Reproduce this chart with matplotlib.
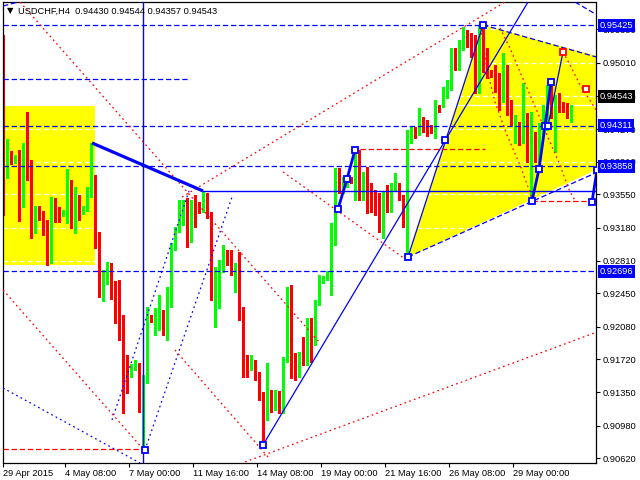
import matplotlib
matplotlib.use("Agg")
import matplotlib.pyplot as plt
import matplotlib.transforms as mtransforms
from matplotlib.patches import Polygon, Rectangle
import numpy as np

# ---------------- USDCHF H4 candles (first candle is bar -1, cut by the left edge)
opens = [0.95262, 0.93786, 0.93919, 0.93908, 0.93974, 0.93608, 0.93897, 0.93808, 0.93220, 0.93364, 0.93308,
         0.93142, 0.93020, 0.93497, 0.93364, 0.93320, 0.93342, 0.93697, 0.93197, 0.93508, 0.93353,
         0.93386, 0.93541, 0.93730, 0.93075, 0.92453, 0.92620, 0.92720, 0.92476, 0.92453, 0.91999,
         0.91743, 0.91532, 0.91621, 0.91655, 0.91166, 0.91521, 0.92187, 0.92076, 0.92210, 0.92243,
         0.92143, 0.92321, 0.92975, 0.93153, 0.93231, 0.93442, 0.93042, 0.93442, 0.93442, 0.93397,
         0.93508, 0.93297, 0.92453, 0.92676, 0.92731, 0.92831, 0.92809, 0.92676, 0.92776, 0.92176,
         0.91710, 0.91621, 0.91710, 0.91521, 0.91355, 0.91100, 0.91366, 0.91177, 0.91310, 0.91266,
         0.91710, 0.92453, 0.91777, 0.91544, 0.91821, 0.91688, 0.91965, 0.91899, 0.92343, 0.92576,
         0.92620, 0.92676, 0.93153, 0.93730, 0.93575, 0.93675, 0.93719, 0.93686, 0.93764, 0.93508,
         0.93708, 0.93597, 0.93486, 0.93431, 0.93231, 0.93564, 0.93375, 0.93597, 0.93653, 0.93519,
         0.93186, 0.94130, 0.94241, 0.94241, 0.94407, 0.94307, 0.94296, 0.94241, 0.94529, 0.94529,
         0.94629, 0.94729, 0.95073, 0.94940, 0.95173, 0.95340, 0.95229, 0.95118, 0.94740, 0.95351,
         0.95040, 0.94907, 0.94874, 0.94740, 0.94596, 0.94874, 0.94441, 0.94263, 0.94285, 0.94152,
         0.94407, 0.94041, 0.94185, 0.93985, 0.94263, 0.94540, 0.94674, 0.94430, 0.94663, 0.94540, 0.94507, 0.94430]
highs = [0.95318, 0.94163, 0.94030, 0.93985, 0.94041, 0.94119, 0.94463, 0.93930, 0.93419, 0.93419, 0.93364,
         0.93264, 0.93519, 0.93508, 0.93408, 0.93375, 0.93830, 0.93708, 0.93630, 0.93541, 0.93419,
         0.93630, 0.94119, 0.93764, 0.93131, 0.92709, 0.92798, 0.92787, 0.92587, 0.92598, 0.92210,
         0.91766, 0.91666, 0.91710, 0.91677, 0.91544, 0.92299, 0.92210, 0.92288, 0.92431, 0.92265,
         0.92520, 0.93009, 0.93186, 0.93486, 0.93486, 0.93508, 0.93486, 0.93541, 0.93464, 0.93575,
         0.93564, 0.93353, 0.92743, 0.92820, 0.92987, 0.92931, 0.92931, 0.92787, 0.92909, 0.92299,
         0.91766, 0.91766, 0.91710, 0.91577, 0.91355, 0.91677, 0.91377, 0.91377, 0.91366, 0.91743,
         0.92520, 0.92541, 0.91788, 0.91799, 0.91965, 0.92176, 0.92176, 0.92376, 0.92654, 0.92642,
         0.92698, 0.93231, 0.93841, 0.93841, 0.93741, 0.93764, 0.93741, 0.94041, 0.94041, 0.93800,
         0.93852, 0.93675, 0.93597, 0.93564, 0.93586, 0.93653, 0.93675, 0.93786, 0.93675, 0.93541,
         0.94263, 0.94296, 0.94296, 0.94507, 0.94407, 0.94374, 0.94319, 0.94596, 0.94540, 0.94740,
         0.94818, 0.95173, 0.95173, 0.95262, 0.95406, 0.95373, 0.95340, 0.95318, 0.95429, 0.95429,
         0.95173, 0.94929, 0.94985, 0.94896, 0.95118, 0.94985, 0.94596, 0.94430, 0.94352, 0.94785,
         0.94452, 0.94463, 0.94241, 0.94341, 0.94374, 0.94763, 0.94796, 0.94651, 0.94674, 0.94574, 0.94563, 0.94544]
lows = [0.93320, 0.93730, 0.93886, 0.93897, 0.93253, 0.93408, 0.93708, 0.93064, 0.93120, 0.93264, 0.93098,
        0.92765, 0.92787, 0.93242, 0.93242, 0.93308, 0.93231, 0.93175, 0.93120, 0.93264, 0.93331,
        0.93364, 0.93519, 0.92953, 0.92409, 0.92365, 0.92554, 0.92387, 0.92121, 0.91932, 0.91122,
        0.91344, 0.91521, 0.91599, 0.91133, 0.90722, 0.91455, 0.92132, 0.91988, 0.92043, 0.91988,
        0.91932, 0.92299, 0.92931, 0.93131, 0.93209, 0.92964, 0.93020, 0.93186, 0.93342, 0.93353,
        0.93286, 0.92376, 0.92076, 0.92288, 0.92687, 0.92765, 0.92654, 0.92464, 0.92154, 0.91521,
        0.91521, 0.91599, 0.91488, 0.91266, 0.90766, 0.91044, 0.91133, 0.91155, 0.91122, 0.91122,
        0.91688, 0.91510, 0.91488, 0.91521, 0.91655, 0.91655, 0.91688, 0.91877, 0.92321, 0.92565,
        0.92598, 0.92431, 0.92987, 0.93564, 0.93564, 0.93630, 0.93675, 0.93486, 0.93486, 0.93486,
        0.93342, 0.93353, 0.93320, 0.93131, 0.93064, 0.93353, 0.93353, 0.93586, 0.93486, 0.93186,
        0.92853, 0.94119, 0.94174, 0.94207, 0.94241, 0.94196, 0.94230, 0.94174, 0.94463, 0.94518,
        0.94618, 0.94707, 0.94929, 0.94929, 0.95151, 0.95184, 0.95073, 0.94674, 0.94674, 0.94907,
        0.94840, 0.94851, 0.94685, 0.94485, 0.94574, 0.94430, 0.94319, 0.94119, 0.94096, 0.94119,
        0.93908, 0.93464, 0.93908, 0.93908, 0.94207, 0.94263, 0.94396, 0.94019, 0.94463, 0.94463, 0.94396, 0.94357]
closes = [0.93397, 0.93919, 0.93897, 0.93974, 0.93608, 0.93897, 0.93797, 0.93220, 0.93364, 0.93297, 0.93142,
          0.93020, 0.93497, 0.93253, 0.93320, 0.93353, 0.93697, 0.93197, 0.93508, 0.93297, 0.93386,
          0.93541, 0.93730, 0.93075, 0.92464, 0.92631, 0.92720, 0.92464, 0.92442, 0.91988, 0.91732,
          0.91588, 0.91632, 0.91655, 0.91166, 0.91521, 0.92187, 0.92154, 0.92232, 0.92243, 0.92154,
          0.92321, 0.92975, 0.93131, 0.93242, 0.93442, 0.93042, 0.93442, 0.93408, 0.93397, 0.93508,
          0.93297, 0.92453, 0.92676, 0.92731, 0.92909, 0.92787, 0.92676, 0.92776, 0.92176, 0.91655,
          0.91655, 0.91710, 0.91521, 0.91355, 0.91100, 0.91366, 0.91155, 0.91310, 0.91266, 0.91721,
          0.92453, 0.91766, 0.91544, 0.91710, 0.91688, 0.91965, 0.91899, 0.92343, 0.92620, 0.92620,
          0.92676, 0.93186, 0.93730, 0.93597, 0.93675, 0.93741, 0.93686, 0.93764, 0.93508, 0.93708,
          0.93675, 0.93464, 0.93419, 0.93231, 0.93564, 0.93375, 0.93653, 0.93653, 0.93519, 0.93186,
          0.94130, 0.94241, 0.94185, 0.94407, 0.94241, 0.94241, 0.94241, 0.94529, 0.94485, 0.94651,
          0.94729, 0.95073, 0.94940, 0.95173, 0.95340, 0.95229, 0.95096, 0.94740, 0.95373, 0.95040,
          0.94907, 0.94874, 0.94740, 0.94596, 0.94874, 0.94452, 0.94352, 0.94285, 0.94152, 0.94407,
          0.94041, 0.94185, 0.93985, 0.94319, 0.94540, 0.94674, 0.94430, 0.94651, 0.94563, 0.94485, 0.94407, 0.94543]
first_bar = -1

# axis texts
date_ticks = [-1, 14.5, 30.5, 46.5, 62.5, 78.5, 94.5, 110.5, 126.5]
date_labels = ["29 Apr 2015", "4 May 08:00", "7 May 00:00", "11 May 16:00", "14 May 08:00",
               "19 May 00:00", "21 May 16:00", "26 May 08:00", "29 May 00:00"]
price_ticks = [0.95380, 0.95010, 0.94640, 0.94270, 0.93910, 0.93550, 0.93180,
               0.92810, 0.92450, 0.92080, 0.91720, 0.91350, 0.90980, 0.90620]
title = "USDCHF,H4  0.94430 0.94544 0.94357 0.94543"

# ---------------- analyst objects (bar, price)
levels = [0.95425, 0.94311, 0.93858, 0.92696]
short_level = (0.94829, -1, 45.75)
support = (0.93586, 49, 148)
thick_line = [(21.25, 0.94119), (49, 0.93586)]
vline_bar = 34
box = (-2, 22, 0.92768, 0.94533)
triangle = [(100.25, 0.92853), (119, 0.95429), (186, 0.94618)]

blue_thin = [[(64, 0.90766), (130.25, 0.95684)],
             [(100.25, 0.92853), (119, 0.95429)],
             [(135.25, 0.94307), (139, 0.95129)]]
blue_dashed = [[(119, 0.95429), (148.25, 0.95062)],
               [(100.25, 0.92853), (148.25, 0.93808)],
               [(-1, 0.95639), (2.75, 0.95684)],
               [(142, 0.95684), (147.5, 0.95540)]]
blue_dotted = [[(-1, 0.91399), (33.25, 0.90566)],
               [(26.25, 0.91044), (45.75, 0.93619)],
               [(34.5, 0.90711), (56.25, 0.93519)]]
red_dotted = [[(3.25, 0.95684), (78.25, 0.91899)],
              [(-1, 0.92487), (34, 0.90722)],
              [(42, 0.91821), (65.25, 0.90633)],
              [(69, 0.93797), (100.5, 0.92800)],
              [(43.75, 0.93519), (124.5, 0.95684)],
              [(59.5, 0.90577), (147.5, 0.92020)],
              [(118.5, 0.95395), (120, 0.94929), (122, 0.94574), (125, 0.94207),
               (128.25, 0.93874), (131.25, 0.93508)],
              [(123.25, 0.95395), (125.75, 0.95173), (128.25, 0.94907), (130.75, 0.94652),
               (133.25, 0.94396), (135.75, 0.94130), (138.25, 0.93874), (140.75, 0.93575),
               (142.25, 0.93464)],
              [(139, 0.95129), (140.75, 0.94985), (143.25, 0.94763), (146.5, 0.94540),
               (147.75, 0.94452)]]
red_dashed = [(0.90722, -1, 34), (0.94052, 88.25, 119.5), (0.93475, 131.25, 147.5)]

waves = [[(82.75, 0.93386), (85, 0.93719), (87, 0.94041)],
         [(131.25, 0.93475), (133, 0.93830), (134.5, 0.94307), (136, 0.94796)],
         [(146.25, 0.93464), (147.5, 0.93819)]]
blue_points = [(34.5, 0.90711), (64, 0.90766), (100.25, 0.92853), (109.5, 0.94152),
               (119, 0.95429), (135.25, 0.94307)]
red_points = [(139, 0.95129), (144.75, 0.94718)]

marked = [0.95425, 0.94311, 0.93858, 0.92696]

BLUE = "#0000ff"
RED = "#ff0000"
GREEN = "#00ff00"
DASH = (0, (4.3, 2.2))
DOT = (0, (1.4, 2.6))

plt.rcParams["font.family"] = ["Liberation Sans", "DejaVu Sans"]

fig = plt.figure(figsize=(6.4, 4.8), dpi=100)
ax = fig.add_axes([3 / 640, 17 / 480, 593 / 640, 461 / 480])
ax.set_xlim(-1.0, 147.25)
ax.set_ylim(0.90566, 0.95684)

# yellow zones
ax.add_patch(Rectangle((box[0], box[2]), box[1] - box[0], box[3] - box[2],
                       facecolor="#ffff00", edgecolor="none", zorder=0.5))
ax.add_patch(Polygon(triangle, closed=True, facecolor="#ffff00", edgecolor="none", zorder=0.5))

# white grid (only visible on yellow) and white bid line
for p in price_ticks:
    ax.axhline(p, color="white", lw=0.9, ls=(0, (4, 2.5)), zorder=0.8)
ax.axhline(closes[-1], color="white", lw=0.9, zorder=0.8)

# candles, drawn crisp like the terminal does
o = np.array(opens); h = np.array(highs); l = np.array(lows); c = np.array(closes)
x = np.arange(first_bar, first_bar + len(c))
col = np.where(c >= o, GREEN, RED)
ax.vlines(x, l, h, colors=col, lw=1.0, zorder=2, antialiased=False)
body = np.maximum(np.abs(c - o), 0.00012)
ax.bar(x, body, bottom=np.minimum(o, c), width=0.75, color=col, linewidth=0, zorder=2.1,
       antialiased=False)

# objects
def seg(pts, **kw):
    xs, ys = zip(*pts)
    ax.plot(xs, ys, **kw)

for p in levels:
    ax.axhline(p, color=BLUE, lw=0.9, ls=DASH, zorder=3)
seg([(short_level[1], short_level[0]), (short_level[2], short_level[0])], color=BLUE, lw=0.9, ls=DASH, zorder=3)
seg([(support[1], support[0]), (support[2], support[0])], color=BLUE, lw=1.0, zorder=3)
seg(thick_line, color=BLUE, lw=2.3, zorder=3.2, solid_capstyle="butt")
ax.axvline(vline_bar, color=BLUE, lw=1.0, zorder=3)

for pts in blue_thin:
    seg(pts, color=BLUE, lw=0.9, zorder=3)
for pts in blue_dashed:
    seg(pts, color=BLUE, lw=0.9, ls=DASH, zorder=3)
for pts in blue_dotted:
    seg(pts, color=BLUE, lw=0.9, ls=DOT, zorder=3)
for pts in red_dotted:
    seg(pts, color=RED, lw=0.9, ls=DOT, zorder=3)
for p, a, b in red_dashed:
    seg([(a, p), (b, p)], color=RED, lw=0.9, ls=DASH, zorder=3)

for pts in waves:
    seg(pts, color=BLUE, lw=2.0, zorder=3.3)
    xs, ys = zip(*pts)
    ax.plot(xs, ys, ls="none", marker="s", ms=4.5, mfc="white", mec=BLUE, mew=1.3, zorder=3.5)
xs, ys = zip(*blue_points)
ax.plot(xs, ys, ls="none", marker="s", ms=4.5, mfc="white", mec=BLUE, mew=1.3, zorder=3.5)
xs, ys = zip(*red_points)
ax.plot(xs, ys, ls="none", marker="s", ms=4.5, mfc="white", mec=RED, mew=1.3, zorder=3.5)

# frame and axes
for s in ax.spines.values():
    s.set_color("black")
    s.set_linewidth(0.9)
ax.yaxis.tick_right()
ax.set_yticks(price_ticks)
ax.set_yticklabels([f"{p:.5f}" for p in price_ticks])
ax.tick_params(axis="y", direction="out", length=3, width=0.8, pad=2, labelsize=6.7)
ax.set_xticks(date_ticks)
ax.set_xticklabels(date_labels)
ax.tick_params(axis="x", direction="out", length=3, width=0.8, pad=1.5, labelsize=6.7)
for lbl in ax.get_xticklabels():
    lbl.set_ha("left")

trans = mtransforms.blended_transform_factory(ax.transAxes, ax.transData)
for p in marked:
    ax.text(1.0058, p, f"{p:.5f}", transform=trans, ha="left", va="center", fontsize=6.7,
            color="white", bbox=dict(boxstyle="square,pad=0.2", fc=BLUE, ec="none"), zorder=10, clip_on=False)
ax.annotate(f"{closes[-1]:.5f}", xy=(1.0058, closes[-1]), xycoords=trans, xytext=(0, 6),
            textcoords="offset points", ha="left", va="center", fontsize=6.7, color="white",
            bbox=dict(boxstyle="square,pad=0.2", fc="black", ec="none"), zorder=10, annotation_clip=False)

fig.text(7 / 640, 1 - 11 / 480, "\u25bc", fontsize=6, family="DejaVu Sans", va="center")
fig.text(18 / 640, 1 - 11 / 480, title, fontsize=6.7, va="center")

fig.savefig("out.png", dpi=100)
